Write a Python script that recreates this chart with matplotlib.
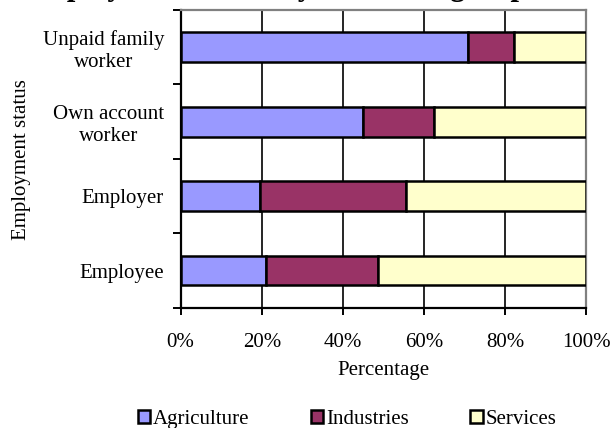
import numpy as np
import matplotlib
matplotlib.use('Agg')
import matplotlib.pyplot as plt
from matplotlib.ticker import FuncFormatter

plt.rcParams['font.family'] = ['Liberation Serif', 'DejaVu Serif']

# employment status (bottom to top) and share by economic group, %
status = ['Employee', 'Employer', 'Own account\nworker', 'Unpaid family\nworker']
agriculture = [21.0, 19.6, 45.1, 70.8]
industries = [27.7, 36.0, 17.4, 11.4]
services = [51.3, 44.4, 37.5, 17.8]

groups = ['Agriculture', 'Industries', 'Services']
colors = ['#9999FF', '#993366', '#FFFFCC']

fig = plt.figure(figsize=(6.1, 4.28), dpi=100)
ax = fig.add_axes([0.2962, 0.281, 0.6645, 0.6956])

y = np.arange(len(status))
left = np.zeros(len(status))
for name, vals, c in zip(groups, [agriculture, industries, services], colors):
    ax.barh(y, vals, left=left, height=0.4, color=c, edgecolor='black',
            linewidth=1.8, label=name, zorder=3)
    left = left + np.array(vals)

ax.set_xlim(0, 100)
ax.set_ylim(-0.5, len(status) - 0.5)

ax.set_xticks([0, 20, 40, 60, 80, 100])
ax.xaxis.set_major_formatter(FuncFormatter(lambda v, p: '%d%%' % v))
ax.tick_params(axis='x', direction='out', length=5, width=1.4, labelsize=15, pad=13)
for xv in [20, 40, 60, 80]:
    ax.axvline(xv, color='black', linewidth=1.2, zorder=1)

# ticks at band boundaries, labels at band centers
ax.set_yticks(np.arange(-0.5, len(status), 1.0))
ax.set_yticklabels([])
ax.set_yticks(y, minor=True)
ax.set_yticklabels(status, minor=True, fontsize=15)
for lab in ax.get_yticklabels(minor=True):
    lab.set_multialignment('center')
ax.tick_params(axis='y', which='major', direction='out', length=6, width=1.4)
ax.tick_params(axis='y', which='minor', length=0, pad=12)

ax.spines['left'].set_color('black')
ax.spines['bottom'].set_color('black')
ax.spines['left'].set_linewidth(1.6)
ax.spines['bottom'].set_linewidth(1.6)
ax.spines['top'].set_color('#808080')
ax.spines['right'].set_color('#808080')
ax.spines['top'].set_linewidth(1.6)
ax.spines['right'].set_linewidth(1.6)

ax.set_xlabel('Percentage', fontsize=15, labelpad=7)
fig.text(0.036, 0.628, 'Employment status', rotation=90, fontsize=15,
         ha='center', va='center')

# title sits mostly above the visible area, as in the source image
fig.text(0.45, 1 + 5.0 / 428, 'Employment status by economic group',
         fontsize=22, fontweight='bold', ha='center', va='baseline')

fig.legend(loc='center', bbox_to_anchor=(0.569, 0.021), ncol=3, frameon=False,
           fontsize=15, handlelength=0.6, handleheight=0.6, handletextpad=0.15,
           columnspacing=2.93)

fig.savefig('out.png', dpi=100)
